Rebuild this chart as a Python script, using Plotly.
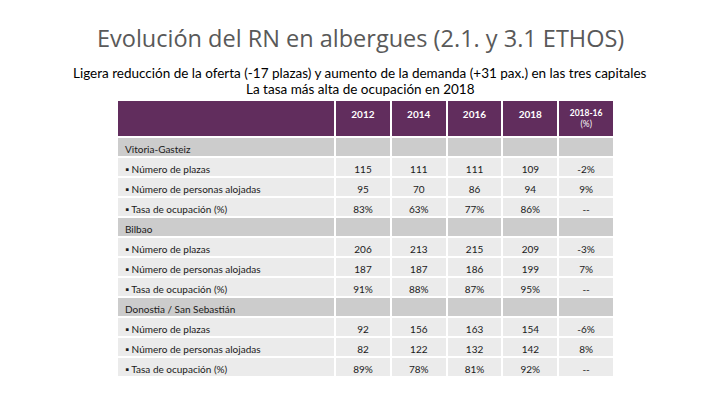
import plotly.graph_objects as go

title = "Evolución del RN en albergues (2.1. y 3.1 ETHOS)"
subtitle1 = "Ligera reducción de la oferta (-17 plazas) y aumento de la demanda (+31 pax.) en las tres capitales"
subtitle2 = "La tasa más alta de ocupación en 2018"

header = ["", "<b>2012</b>", "<b>2014</b>", "<b>2016</b>", "<b>2018</b>",
          "<b>2018-16</b><br>&nbsp;&nbsp;&nbsp;&nbsp;&nbsp;(%)"]

row_labels = [
    "Vitoria-Gasteiz",
    "▪ Número de plazas", "▪ Número de personas alojadas", "▪ Tasa de ocupación (%)",
    "Bilbao",
    "▪ Número de plazas", "▪ Número de personas alojadas", "▪ Tasa de ocupación (%)",
    "Donostia / San Sebastián",
    "▪ Número de plazas", "▪ Número de personas alojadas", "▪ Tasa de ocupación (%)",
]
is_group = [True, False, False, False, True, False, False, False, True, False, False, False]

v2012 = ["", "115", "95", "83%", "", "206", "187", "91%", "", "92", "82", "89%"]
v2014 = ["", "111", "70", "63%", "", "213", "187", "88%", "", "156", "122", "78%"]
v2016 = ["", "111", "86", "77%", "", "215", "186", "87%", "", "163", "132", "81%"]
v2018 = ["", "109", "94", "86%", "", "209", "199", "95%", "", "154", "142", "92%"]
v_diff = ["", "-2%", "9%", "--", "", "-3%", "7%", "--", "", "-6%", "8%", "--"]

purple = "#612D5D"
group_fill = "#CCCCCC"
row_fill = "#EBEBEB"
fills = [group_fill if g else row_fill for g in is_group]

FONT = "Lato, Open Sans, sans-serif"

fig = go.Figure(go.Table(
    domain=dict(x=[117/720, 614/720], y=[0, 1 - 100/405]),
    columnwidth=[219, 56, 56, 56, 56, 56],
    header=dict(
        values=header,
        fill_color=purple,
        line=dict(color="white", width=2),
        align="center",
        height=30,
        font=dict(family=FONT, size=[10, 10, 10, 10, 10, 8.5], color="white"),
    ),
    cells=dict(
        values=[row_labels, v2012, v2014, v2016, v2018, v_diff],
        fill_color=[fills] * 6,
        line=dict(color="white", width=2),
        align=["left", "center", "center", "center", "center", "center"],
        height=20,
        font=dict(family=FONT, size=10, color="#1a1a1a"),
    ),
))

fig.add_annotation(text=title, x=0.5, y=1 - 38/405, xref="paper", yref="paper",
                   xanchor="center", yanchor="middle", showarrow=False,
                   font=dict(family="Open Sans, sans-serif", size=23.5, color="#595959"))
fig.add_annotation(text=subtitle1, x=0.5, y=1 - 73/405, xref="paper", yref="paper",
                   xanchor="center", yanchor="middle", showarrow=False,
                   font=dict(family=FONT, size=13.5, color="#000000"))
fig.add_annotation(text=subtitle2, x=0.5, y=1 - 89/405, xref="paper", yref="paper",
                   xanchor="center", yanchor="middle", showarrow=False,
                   font=dict(family=FONT, size=13.5, color="#000000"))

fig.update_layout(
    width=720, height=405,
    margin=dict(l=0, r=0, t=0, b=0),
    paper_bgcolor="white", plot_bgcolor="white",
)

fig.write_html("out.html", config={"displayModeBar": False},
               post_script="document.body.style.margin='0';")
